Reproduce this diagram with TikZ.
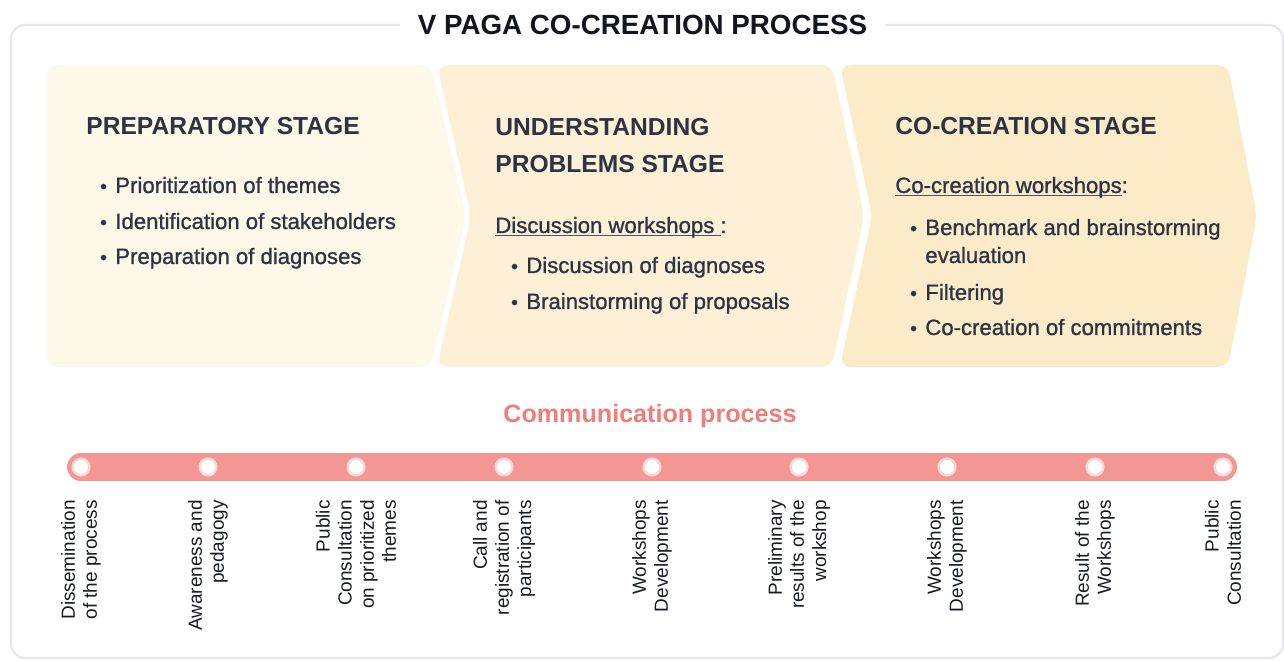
\documentclass[tikz,border=0pt]{standalone}
\usepackage{fontspec}
\setmainfont{Liberation Sans}
\newfontfamily\medfont[FakeBold=1.0]{Liberation Sans}
\usepackage{xcolor}
\usepackage{tikz}
\usetikzlibrary{positioning, backgrounds}
\definecolor{ink}{HTML}{2B3445}
\definecolor{titleink}{HTML}{10151F}
\definecolor{labelink}{HTML}{161A22}
\definecolor{framegray}{HTML}{E6E6EC}
\definecolor{stageA}{HTML}{FEF8E8}
\definecolor{stageB}{HTML}{FDF0D7}
\definecolor{stageC}{HTML}{FCEBC8}
\definecolor{barpink}{HTML}{F39694}
\definecolor{commpink}{HTML}{EF7D7A}
\definecolor{ringpink}{HTML}{FBD9D8}
\tikzset{
  stagebox/.style={rounded corners=6pt},
  heading/.style={
    anchor=base west, inner sep=0pt, align=left,
    text=ink, font=\fontsize{14}{21.5}\selectfont\bfseries
  },
  body/.style={
    anchor=base west, inner sep=0pt, align=left,
    text=ink, font=\fontsize{12.6}{15.9}\selectfont\medfont
  },
  milestone/.style={
    circle, fill=white, draw=ringpink, line width=1.4pt,
    minimum size=9.5pt, inner sep=0pt
  },
  phase/.style={
    rotate=90, anchor=east, inner sep=0pt, align=right,
    text=labelink, font=\fontsize{10.8}{12.6}\selectfont
  },
}
\newcommand{\itm}[1]{\llap{{\fontsize{11}{11}\selectfont\textbullet}\hspace{4.8pt}}#1}
\newcommand{\wsline}[1]{\setbox0\hbox{#1}\rlap{\color{ink!85}\rule[-1.6pt]{\wd0}{0.6pt}}\box0}

\begin{document}
\begin{tikzpicture}[x=0.02cm, y=-0.02cm]
  \useasboundingbox (0,0) rectangle (1284,661);

  \draw[framegray, line width=1.2pt, rounded corners=8pt] (11,25) rectangle (1283,658);
  \node[fill=white, inner xsep=10pt, text=titleink,
        font=\fontsize{15.8}{18}\selectfont\bfseries]
        (title) at (642.5,25) {V PAGA CO-CREATION PROCESS};

  \fill[stageA, stagebox] (47,65) -- (431,65) -- (466,216) -- (431,367) -- (47,367) -- cycle;
  \fill[stageB, stagebox] (437,65) -- (832,65) -- (864,216) -- (832,367) -- (437,367) -- (471,216) -- cycle;
  \fill[stageC, stagebox] (840,65) -- (1228,65) -- (1257,216) -- (1228,367) -- (840,367) -- (872,216) -- cycle;

  \node[heading] (prep) at (86,135) {PREPARATORY STAGE};
  \node[body] (prep1) at (115,193) {\itm{Prioritization of themes}};
  \node[body] (prep2) at (115,229) {\itm{Identification of stakeholders}};
  \node[body] (prep3) at (115,264) {\itm{Preparation of diagnoses}};

  \node[heading] (undr) at (495,173) {UNDERSTANDING\\PROBLEMS STAGE};
  \node[body] (undrws) at (495,233) {\wsline{Discussion workshops\ }:};
  \node[body] (undr1) at (526,273) {\itm{Discussion of diagnoses}};
  \node[body] (undr2) at (526,309) {\itm{Brainstorming of proposals}};

  \node[heading] (cocr) at (895,135) {CO-CREATION STAGE};
  \node[body] (cocrws) at (895,193) {\wsline{Co-creation workshops}:};
  \node[body] (cocr1) at (925,263) {\itm{Benchmark and brainstorming}\\evaluation};
  \node[body] (cocr2) at (925,300) {\itm{Filtering}};
  \node[body] (cocr3) at (925,335) {\itm{Co-creation of commitments}};

  \node[text=commpink, font=\fontsize{14.3}{17}\selectfont\bfseries]
        (comm) at (650,416) {Communication process};

  \foreach \x/\txt [count=\i] in {
      81/{Dissemination\\of the process},
      208/{Awareness and\\pedagogy},
      356/{Public\\Consultation\\on prioritized\\themes},
      504/{Call and\\registration of\\participants},
      652/{Workshops\\Development},
      799/{Preliminary\\results of the\\workshop},
      947/{Workshops\\Development},
      1095/{Result of the\\Workshops},
      1223/{Public\\Consultation}} {
    \node[milestone] (m\i) at (\x,467) {};
    \node[phase] (p\i) at (\x,500) {\txt};
  }
  \begin{scope}[on background layer]
    \draw[barpink, line width=15.9pt, line cap=round] (m1.center) -- (m9.center);
  \end{scope}
\end{tikzpicture}
\end{document}
